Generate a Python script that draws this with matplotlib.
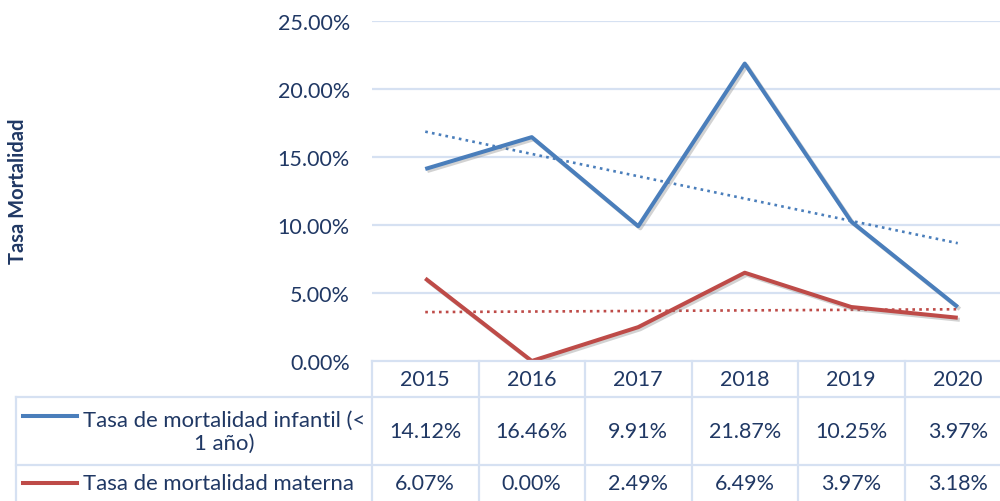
import numpy as np
import matplotlib
matplotlib.use("Agg")
import matplotlib.pyplot as plt
import matplotlib.patheffects as pe
from matplotlib.transforms import blended_transform_factory

plt.rcParams['font.family'] = ['Lato', 'DejaVu Sans']

years = ["2015", "2016", "2017", "2018", "2019", "2020"]
infantil = [14.12, 16.46, 9.91, 21.87, 10.25, 3.97]
materna = [6.07, 0.00, 2.49, 6.49, 3.97, 3.18]
series_names = ["Tasa de mortalidad infantil (<\n1 año)", "Tasa de mortalidad materna"]
yticks = [0, 5, 10, 15, 20, 25]

TXT = '#203864'
GRID = '#D6E1F2'
BLUE = '#4A7EBB'
RED = '#BE4B48'
FS = 15.5

W, H = 1000, 502
fig = plt.figure(figsize=(W/100, H/100), dpi=100)
left, right, top, bottom = 372, 1011, 22, 362
ax = fig.add_axes([left/W, 1-bottom/H, (right-left)/W, (bottom-top)/H])
ax.set_xlim(-0.5, len(years)-0.5)
ax.set_ylim(0, 25)
for s in ax.spines.values():
    s.set_visible(False)
ax.set_xticks([])
ax.set_yticks(yticks)
ax.set_yticklabels([f"{v:.2f}%" for v in yticks], color=TXT, fontsize=FS)
ax.tick_params(axis='y', length=0, pad=16)
for v in yticks[1:]:
    ax.axhline(v, color=GRID, lw=1.6, zorder=0)

x = np.arange(len(years))
shadow = [pe.SimpleLineShadow(offset=(1.5, -1.5), shadow_color='gray', alpha=0.35), pe.Normal()]
for vals, col in [(infantil, BLUE), (materna, RED)]:
    ax.plot(x, vals, color=col, lw=2.9, zorder=3, path_effects=shadow, solid_capstyle='butt')
    k, b = np.polyfit(x, vals, 1)
    ax.plot(x, k*x+b, color=col, lw=1.9, ls=(0, (1, 1.6)), zorder=2)

fig.text(18/W, 1-191/H, "Tasa Mortalidad", rotation=90, ha='center', va='center',
         color=TXT, fontsize=14.5, fontweight='bold')

# data table
tr = blended_transform_factory(ax.transData, fig.transFigure)
trf = fig.transFigure
def fy(py):
    return 1 - py/H
fig.add_artist(plt.Line2D([left/W, 1.0], [fy(362)]*2, color=GRID, lw=1.6, transform=trf))
for py in [398, 466]:
    fig.add_artist(plt.Line2D([16/W, 1.0], [fy(py)]*2, color=GRID, lw=1.6, transform=trf))
fig.add_artist(plt.Line2D([16/W]*2, [fy(398), fy(502)], color=GRID, lw=1.6, transform=trf))
for i in range(len(years)+1):
    xi = i - 0.5
    fig.add_artist(plt.Line2D([xi, xi], [fy(362), fy(502)], color=GRID, lw=1.6, transform=tr))

for i, yr in enumerate(years):
    fig.text(i, fy(380), yr, transform=tr, ha='center', va='center', color=TXT, fontsize=FS)
    fig.text(i, fy(432), f"{infantil[i]:.2f}%", transform=tr, ha='center', va='center', color=TXT, fontsize=FS)
    fig.text(i, fy(484), f"{materna[i]:.2f}%", transform=tr, ha='center', va='center', color=TXT, fontsize=FS)

fig.add_artist(plt.Line2D([23/W, 77/W], [fy(417)]*2, color=BLUE, lw=2.9, transform=trf))
fig.add_artist(plt.Line2D([23/W, 77/W], [fy(484)]*2, color=RED, lw=2.9, transform=trf))
fig.text(224.5/W, fy(432), series_names[0], ha='center', va='center', color=TXT, fontsize=15.9,
         linespacing=1.2, transform=trf)
fig.text(218.5/W, fy(484), series_names[1], ha='center', va='center', color=TXT, fontsize=15.9, transform=trf)

fig.savefig("out.png", dpi=100, facecolor='white')
